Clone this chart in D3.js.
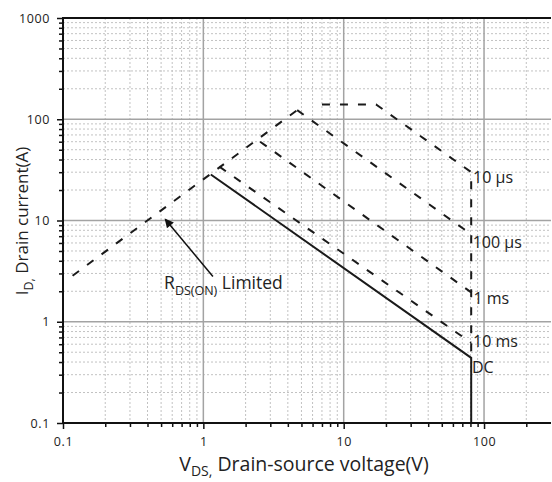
<!DOCTYPE html>
<html>
<head>
<meta charset="utf-8">
<script src="https://cdn.jsdelivr.net/npm/d3@7"></script>
<style>
  body { margin: 0; background: #fff; }
  svg { display: block; font-family: "Open Sans", "Noto Sans", sans-serif; }
</style>
</head>
<body>
<svg id="chart" width="552" height="482"></svg>
<script>
// Safe operating area: drain current vs drain-source voltage (log-log)
const xMajorTicks = [0.1, 1, 10, 100];
const xTickLabels = ["0.1", "1", "10", "100"];
const yMajorTicks = [0.1, 1, 10, 100, 1000];
const yTickLabels = ["0.1", "1", "10", "100", "1000"];

// Boundary curves as [V_DS (V), I_D (A)] vertices
const rdsOnLimit = [[0.117, 2.85], [4.66, 123]];
const pulse10us  = [[7.0, 140], [17, 140], [81, 30], [81, 0.44]];
const pulse100us = [[4.66, 123], [81, 7.3]];
const pulse1ms   = [[2.54, 60], [81, 1.95]];
const pulse10ms  = [[1.3, 34], [81, 0.62]];
const dcLimit    = [[1.13, 28.5], [81, 0.44], [81, 0.1]];

// Curve labels and the [V, I] point at each label's baseline start
const curveLabels = ["10 µs", "100 µs", "1 ms", "10 ms", "DC"];
const curveLabelAt = [[83.5, 23.3], [83, 5.3], [84, 1.51], [83.5, 0.565], [82, 0.313]];

// R_DS(ON) annotation: text start, arrow tail and arrow tip in [V, I]
const rdsTextAt = [0.525, 2.1];
const rdsArrowTail = [1.17, 2.8];
const rdsArrowTip = [0.535, 10.3];

const svg = d3.select("#chart");
const W = 552, H = 482;
const plotL = 63, plotR = 551, plotT = 18, plotB = 423;

const x = d3.scaleLog().domain([0.1, 300]).range([plotL, plotR]);
const y = d3.scaleLog().domain([0.1, 1000]).range([plotB, plotT]);

// minor positions 2..9 within each decade
function minorValues(lo, hi) {
  const out = [];
  for (let d = lo; d < hi; d *= 10) {
    for (let k = 2; k <= 9; k++) {
      const v = +(k * d).toPrecision(3);
      if (v < hi) out.push(v);
    }
  }
  return out;
}
const xMinor = minorValues(0.1, 300);
const yMinor = minorValues(0.1, 1000);

svg.append("rect").attr("width", W).attr("height", H).attr("fill", "#fff");

// grid
const grid = svg.append("g");
grid.selectAll(".gxm").data(xMinor).join("line")
  .attr("x1", d => x(d)).attr("x2", d => x(d))
  .attr("y1", plotT).attr("y2", plotB)
  .attr("stroke", "#c2c2c2").attr("stroke-width", 1).attr("stroke-dasharray", "2,2");
grid.selectAll(".gym").data(yMinor).join("line")
  .attr("y1", d => y(d)).attr("y2", d => y(d))
  .attr("x1", plotL).attr("x2", plotR)
  .attr("stroke", "#c2c2c2").attr("stroke-width", 1).attr("stroke-dasharray", "2,2");
grid.selectAll(".gxM").data(xMajorTicks.slice(1)).join("line")
  .attr("x1", d => x(d)).attr("x2", d => x(d))
  .attr("y1", plotT).attr("y2", plotB)
  .attr("stroke", "#a3a3a3").attr("stroke-width", 1.5);
grid.selectAll(".gyM").data(yMajorTicks.slice(1, -1)).join("line")
  .attr("y1", d => y(d)).attr("y2", d => y(d))
  .attr("x1", plotL).attr("x2", plotR)
  .attr("stroke", "#a3a3a3").attr("stroke-width", 1.5);

// curves
const line = d3.line().x(d => x(d[0])).y(d => y(d[1]));
const dashed = [rdsOnLimit, pulse10us, pulse100us, pulse1ms, pulse10ms];
svg.append("g").selectAll("path").data(dashed).join("path")
  .attr("d", line).attr("fill", "none")
  .attr("stroke", "#1a1a1a").attr("stroke-width", 2)
  .attr("stroke-dasharray", "8,10");
svg.append("path").datum(dcLimit).attr("d", line).attr("fill", "none")
  .attr("stroke", "#1a1a1a").attr("stroke-width", 2);

// axes
const yAxisMinor = d3.axisLeft(y).tickValues(yMinor).tickSize(4).tickFormat("");
const yAxisMajor = d3.axisLeft(y).tickValues(yMajorTicks).tickSize(6).tickPadding(7)
  .tickFormat((d, i) => yTickLabels[i]);
const xAxisMinor = d3.axisBottom(x).tickValues(xMinor).tickSize(4).tickFormat("");
const xAxisMajor = d3.axisBottom(x).tickValues(xMajorTicks).tickSize(6).tickPadding(8)
  .tickFormat((d, i) => xTickLabels[i]);

function styleAxis(g) {
  g.select(".domain").remove();
  g.selectAll("line").attr("stroke", "#111").attr("stroke-width", 1.5);
  g.selectAll("text")
    .attr("font-family", "\"Open Sans\", sans-serif")
    .attr("font-size", 12.5).attr("letter-spacing", 0.6).attr("fill", "#222");
}
svg.append("g").attr("transform", `translate(${plotL},0)`).call(yAxisMinor).call(styleAxis);
svg.append("g").attr("transform", `translate(${plotL},0)`).call(yAxisMajor).call(styleAxis);
svg.append("g").attr("transform", `translate(0,${plotB})`).call(xAxisMinor).call(styleAxis);
svg.append("g").attr("transform", `translate(0,${plotB})`).call(xAxisMajor).call(styleAxis);

// frame: top, left and bottom borders
svg.append("path")
  .attr("d", `M${plotR},${plotT}H${plotL}V${plotB}H${plotR}`)
  .attr("fill", "none").attr("stroke", "#111").attr("stroke-width", 2);

// curve labels
svg.append("g").selectAll("text").data(curveLabels).join("text")
  .attr("x", (d, i) => x(curveLabelAt[i][0]))
  .attr("y", (d, i) => y(curveLabelAt[i][1]))
  .attr("font-size", 16).attr("fill", "#222")
  .text(d => d);

// R_DS(ON) annotation
const rds = svg.append("text")
  .attr("x", x(rdsTextAt[0])).attr("y", y(rdsTextAt[1]))
  .attr("font-size", 17.5).attr("fill", "#222");
rds.append("tspan").text("R");
rds.append("tspan").attr("font-size", 12.5).attr("dy", 6).text("DS(ON)");
rds.append("tspan").attr("dy", -6).text(" Limited");

svg.append("defs").append("marker")
  .attr("id", "arrowHead").attr("viewBox", "0 0 10 10")
  .attr("refX", 9).attr("refY", 5)
  .attr("markerWidth", 10).attr("markerHeight", 9)
  .attr("markerUnits", "userSpaceOnUse")
  .attr("orient", "auto")
  .append("path").attr("d", "M0,0 L10,5 L0,10 Z").attr("fill", "#111");
svg.append("line")
  .attr("x1", x(rdsArrowTail[0])).attr("y1", y(rdsArrowTail[1]))
  .attr("x2", x(rdsArrowTip[0])).attr("y2", y(rdsArrowTip[1]))
  .attr("stroke", "#111").attr("stroke-width", 1.5)
  .attr("marker-end", "url(#arrowHead)");

// axis titles
const xt = svg.append("text")
  .attr("x", 304).attr("y", 471)
  .attr("text-anchor", "middle").attr("font-size", 19.5).attr("fill", "#222");
xt.append("tspan").text("V");
xt.append("tspan").attr("font-size", 14).attr("dy", 5).text("DS,");
xt.append("tspan").attr("dy", -5).text(" Drain-source voltage(V)");

const yt = svg.append("text")
  .attr("transform", "translate(28,221) rotate(-90)")
  .attr("text-anchor", "middle").attr("font-size", 17).attr("fill", "#222");
yt.append("tspan").text("I");
yt.append("tspan").attr("font-size", 12.5).attr("dy", 5).text("D,");
yt.append("tspan").attr("dy", -5).text(" Drain current(A)");
</script>
</body>
</html>
